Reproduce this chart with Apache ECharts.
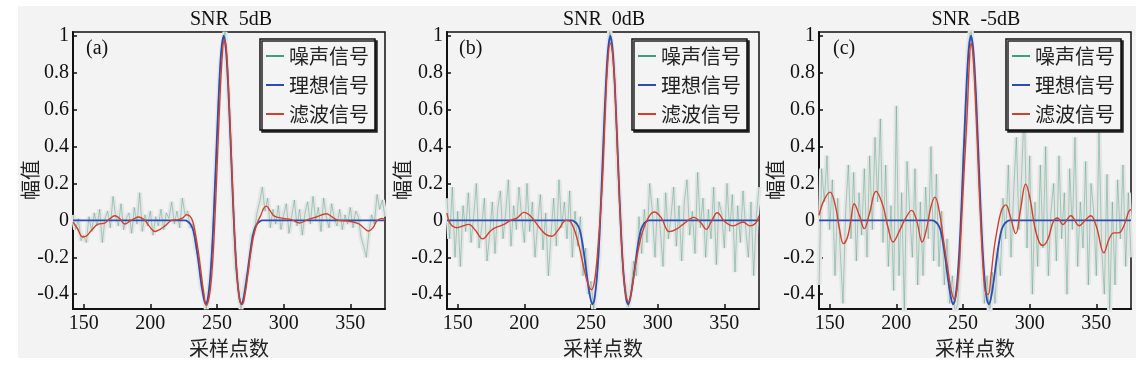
<!DOCTYPE html>
<html>
<head>
<meta charset="utf-8">
<script src="https://cdn.jsdelivr.net/npm/echarts@6/dist/echarts.min.js"></script>
<style>
  html, body { margin: 0; padding: 0; background: #fff; }
  #chart { width: 1142px; height: 368px; }
</style>
</head>
<body>
<div id="chart"></div>
<script>
// ---- data ----

const TITLES = ["SNR  5dB", "SNR  0dB", "SNR  -5dB"];
const TAGS = ["(a)", "(b)", "(c)"];
const SERIES_NAMES = ["噪声信号", "理想信号", "滤波信号"];
const X_TICKS = [150, 200, 250, 300, 350];
const Y_TICKS = [-0.4, -0.2, 0, 0.2, 0.4, 0.6, 0.8, 1];

// sample positions of the noisy traces (every 2nd sample)
const NOISE_X = [
  142, 144, 146, 148, 150, 152, 154, 156, 158, 160,
  162, 164, 166, 168, 170, 172, 174, 176, 178, 180,
  182, 184, 186, 188, 190, 192, 194, 196, 198, 200,
  202, 204, 206, 208, 210, 212, 214, 216, 218, 220,
  222, 224, 226, 228, 230, 232, 234, 236, 238, 240,
  242, 244, 246, 248, 250, 252, 254, 256, 258, 260,
  262, 264, 266, 268, 270, 272, 274, 276, 278, 280,
  282, 284, 286, 288, 290, 292, 294, 296, 298, 300,
  302, 304, 306, 308, 310, 312, 314, 316, 318, 320,
  322, 324, 326, 328, 330, 332, 334, 336, 338, 340,
  342, 344, 346, 348, 350, 352, 354, 356, 358, 360,
  362, 364, 366, 368, 370, 372, 374, 376
];

const NOISY_A = [
  0.03, -0.05, 0.01, -0.11, -0.08, -0.12, 0.02, -0.06, 0.04, -0.03,
  0.06, -0.12, 0.01, 0.05, -0.04, 0.13, 0.02, -0.03, 0.09, -0.05,
  0.01, 0.04, -0.07, 0.07, -0.02, 0.15, -0.06, 0.03, -0.03, 0.05,
  -0.08, 0.02, -0.03, 0.06, -0.05, 0.04, 0.01, 0.10, -0.02, 0.05,
  -0.04, 0.12, 0.03, 0.05, -0.04, -0.02, -0.15, -0.20, -0.36, -0.40,
  -0.48, -0.38, -0.22, 0.14, 0.43, 0.80, 0.95, 1.02, 0.74, 0.48,
  0.06, -0.26, -0.36, -0.48, -0.40, -0.30, -0.26, -0.08, -0.06, 0.04,
  0.10, 0.18, 0.05, 0.12, -0.04, 0.06, -0.02, 0.08, -0.05, 0.03,
  0.09, -0.07, 0.02, 0.11, -0.03, 0.06, -0.08, 0.04, 0.10, -0.02,
  0.13, 0.00, 0.07, -0.06, 0.12, 0.02, -0.04, 0.09, 0.01, -0.03,
  0.06, -0.05, 0.03, -0.02, 0.07, -0.04, 0.05, 0.02, -0.09, -0.14,
  -0.20, -0.06, 0.03, -0.02, 0.14, 0.06, 0.11, 0.02
];

const NOISY_B = [
  0.12, -0.10, 0.18, -0.20, 0.05, -0.25, 0.08, -0.06, 0.15, -0.12,
  0.02, 0.20, -0.15, -0.04, 0.12, -0.22, -0.08, 0.10, -0.18, 0.06,
  0.16, -0.10, 0.04, 0.22, -0.14, 0.08, -0.05, 0.18, 0.02, -0.12,
  0.20, -0.06, 0.10, -0.20, -0.02, 0.14, -0.16, 0.04, -0.30, -0.08,
  0.12, -0.14, 0.22, -0.04, 0.10, -0.10, 0.16, -0.20, 0.05, -0.14,
  0.02, -0.30, -0.15, -0.40, -0.33, -0.48, -0.35, -0.20, 0.18, 0.58,
  0.80, 1.03, 0.92, 0.74, 0.30, 0.05, -0.28, -0.36, -0.47, -0.38,
  -0.22, -0.30, 0.02, -0.18, 0.06, -0.12, 0.20, 0.05, -0.20, 0.12,
  -0.05, -0.25, 0.15, -0.10, 0.02, 0.18, -0.14, 0.08, -0.22, 0.10,
  0.22, -0.08, 0.05, -0.18, 0.26, -0.04, 0.12, -0.20, 0.06, -0.10,
  0.18, -0.24, 0.10, 0.04, -0.15, 0.20, -0.06, 0.14, -0.28, 0.08,
  -0.12, 0.16, -0.04, -0.20, 0.10, -0.30, 0.02, 0.18
];

const NOISY_C = [
  -0.35, 0.28, 0.10, 0.35, -0.05, 0.22, -0.30, 0.12, -0.18, -0.45,
  0.05, 0.30, -0.10, 0.26, -0.22, 0.15, -0.08, 0.28, -0.20, 0.35,
  -0.05, 0.45, 0.10, 0.55, -0.12, 0.30, -0.25, 0.08, -0.38, 0.62,
  -0.30, 0.15, -0.50, 0.32, 0.05, -0.20, 0.28, -0.35, 0.10, -0.30,
  0.18, -0.10, 0.40, -0.22, 0.25, -0.25, 0.05, -0.35, -0.10, -0.45,
  -0.30, -0.50, -0.45, -0.20, 0.35, 0.50, 0.95, 1.05, 0.80, 0.68,
  0.20, -0.05, -0.45, -0.30, -0.52, -0.28, -0.45, -0.15, -0.30, 0.12,
  -0.10, 0.30, -0.20, 0.15, 0.45, -0.05, 0.25, 0.62, -0.15, 0.35,
  -0.40, 0.10, -0.25, 0.30, -0.15, 0.40, -0.30, 0.05, 0.20, -0.22,
  0.35, -0.10, 0.15, -0.40, 0.28, -0.05, 0.45, -0.25, 0.10, -0.15,
  0.32, -0.35, 0.20, 0.05, -0.30, 0.48, -0.15, -0.40, 0.25, -0.50,
  0.10, -0.35, 0.22, -0.10, 0.30, -0.25, 0.15, -0.20
];

// ideal wavelet, [sample, amplitude]
const IDEAL_A = [
  [142, 0], [226, 0], [228, -0.006], [230, -0.02], [232, -0.05], [234, -0.12],
  [236, -0.22], [238, -0.33], [240, -0.42], [241.5, -0.455], [243, -0.43],
  [245, -0.30], [247, -0.06], [249, 0.28], [251, 0.63], [253, 0.90], [255, 1.0],
  [257, 0.90], [259, 0.63], [261, 0.28], [263, -0.06], [265, -0.30], [267, -0.43],
  [268.5, -0.455], [270, -0.42], [272, -0.33], [274, -0.22], [276, -0.12],
  [278, -0.05], [280, -0.02], [282, -0.006], [284, 0], [376, 0]
];
const IDEAL_B = [
  [142, 0], [235.5, 0], [237.5, -0.006], [239.5, -0.02], [241.5, -0.05], [243.5, -0.12],
  [245.5, -0.22], [247.5, -0.33], [249.5, -0.42], [251, -0.455], [252.5, -0.43],
  [254.5, -0.30], [256.5, -0.06], [258.5, 0.28], [260.5, 0.63], [262.5, 0.90], [264.5, 1.0],
  [266.5, 0.90], [268.5, 0.63], [270.5, 0.28], [272.5, -0.06], [274.5, -0.30], [276.5, -0.43],
  [278, -0.455], [279.5, -0.42], [281.5, -0.33], [283.5, -0.22], [285.5, -0.12],
  [287.5, -0.05], [289.5, -0.02], [291.5, -0.006], [293.5, 0], [376, 0]
];
const IDEAL_C = [
  [142, 0], [227, 0], [229, -0.006], [231, -0.02], [233, -0.05], [235, -0.12],
  [237, -0.22], [239, -0.33], [241, -0.42], [242.5, -0.455], [244, -0.43],
  [246, -0.30], [248, -0.06], [250, 0.28], [252, 0.63], [254, 0.90], [256, 1.0],
  [258, 0.90], [260, 0.63], [262, 0.28], [264, -0.06], [266, -0.30], [268, -0.43],
  [269.5, -0.455], [271, -0.42], [273, -0.33], [275, -0.22], [277, -0.12],
  [279, -0.05], [281, -0.02], [283, -0.006], [285, 0], [376, 0]
];

// filtered output, [sample, amplitude]
const FILT_A = [
  [142, -0.01], [145, -0.04], [149.5, -0.09], [152, -0.085], [155.8, -0.055], [160.8, -0.02],
  [165.8, -0.015], [169, 0.005], [173.4, 0.025], [177, 0.01], [180.9, -0.02], [184.7, -0.004],
  [188, 0.01], [191, 0.018], [196, 0], [199, -0.03], [203.5, -0.06], [207, -0.05], [211, -0.03],
  [216, 0], [221, 0.004], [224, 0.012], [227.4, 0.03], [230, 0.02], [232, -0.01], [234, -0.08],
  [236, -0.17], [238, -0.28], [240, -0.39], [242, -0.46], [244, -0.42], [246, -0.30],
  [248, -0.06], [250, 0.28], [252, 0.63], [254, 0.90], [255.5, 0.98], [257, 0.93], [259, 0.66],
  [261, 0.30], [263, -0.05], [265, -0.30], [267, -0.43], [269, -0.455], [271, -0.40],
  [273, -0.30], [275, -0.19], [277, -0.10], [279, -0.04], [281, 0.0], [283, 0.03], [285, 0.065],
  [287, 0.077], [290, 0.05], [293, 0.023], [299.5, 0.011], [305.8, 0.004], [312, -0.014],
  [318, 0.004], [324.6, 0.018], [332, 0.036], [336, 0.02], [341, 0], [348.5, -0.004],
  [356, -0.018], [360, -0.04], [363.6, -0.058], [367, -0.04], [369.8, -0.004], [373.6, 0.011],
  [376, 0.006]
];
const FILT_B = [
  [142, 0.04], [144.5, -0.018], [149.5, -0.04], [153.3, -0.032], [158.3, -0.022], [163.3, -0.054],
  [168.8, -0.10], [174.6, -0.058], [178.4, -0.04], [184.7, -0.022], [189.7, 0], [194.7, 0.014],
  [199.7, 0.043], [204.8, 0.022], [211, -0.036], [216.1, -0.076], [220.6, -0.086], [226.1, -0.045],
  [231.2, 0], [234.9, -0.01], [240, -0.11], [245, -0.27], [248, -0.35], [250.5, -0.375],
  [253, -0.31], [255.5, -0.12], [258.5, 0.2], [260.5, 0.55], [262.5, 0.85], [264.5, 0.96],
  [266.5, 0.88], [268.5, 0.62], [270.5, 0.26], [272.5, -0.07], [274.5, -0.30], [276.5, -0.42],
  [278.3, -0.44], [280, -0.40], [282.5, -0.28], [284.9, -0.18], [287.5, -0.09], [290, -0.034],
  [293.7, 0.023], [297.5, 0.045], [302.5, 0.016], [308.8, -0.061], [313.8, -0.049], [320, -0.016],
  [327.1, 0.016], [332.7, -0.016], [336.4, -0.049], [340.2, -0.007], [344.7, 0.041],
  [350.3, -0.007], [356.5, -0.03], [364.1, -0.009], [369.1, -0.03], [373.4, -0.016], [376, 0.025]
];
const FILT_C = [
  [142, 0.027], [145.7, 0.108], [150.3, 0.153], [154.5, 0.072], [157.1, -0.036], [160.4, -0.126],
  [163.4, -0.09], [165.9, 0], [168.4, 0.09], [172.2, 0.027], [176, -0.045], [179.8, 0.036],
  [184.8, 0.158], [189.9, 0.081], [193.7, -0.036], [197.5, -0.117], [202.5, -0.054], [206.8, 0.009],
  [211.4, 0.054], [215.2, 0], [219.4, -0.117], [222.7, -0.045], [226, 0.075], [229, 0.126],
  [232.1, 0.054], [235.4, -0.108], [239.1, -0.287], [241.5, -0.39], [243.7, -0.43], [246.5, -0.30],
  [248.5, -0.06], [250.5, 0.22], [253, 0.56], [254.8, 0.86], [256, 0.96], [257.5, 0.9],
  [259.5, 0.62], [261.5, 0.28], [263.5, -0.05], [265.5, -0.30], [267.5, -0.40], [269, -0.40],
  [271, -0.30], [273, -0.17], [275.2, -0.068], [279, 0.057], [282.2, 0.084], [285.1, 0.03],
  [289.6, -0.072], [293.1, 0.057], [297, 0.197], [300.5, 0.11], [303.7, -0.032], [307.4, -0.122],
  [309.9, -0.136], [313.6, -0.104], [317.8, -0.005], [321, 0.013], [324.8, -0.023], [330.9, 0.025],
  [337.1, -0.029], [342.1, 0.004], [345.8, 0.025], [350, -0.032], [355.7, -0.176], [359.4, -0.104],
  [363.1, -0.068], [366.8, -0.068], [370.5, -0.032], [374.3, 0.048], [376, 0.06]
];

// ---- chart ----

const chart = echarts.init(document.getElementById("chart"));
const SERIF = "'Liberation Serif', 'DejaVu Serif', serif";
const CJK = "'Noto Sans CJK SC', sans-serif";
const INK = "#111";
const C_NOISE = "#3f9f7a";
const C_IDEAL = "#2c4db3";
const C_FILT = "#d3402c";

const NOISY = [NOISY_A, NOISY_B, NOISY_C];
const IDEAL = [IDEAL_A, IDEAL_B, IDEAL_C];
const FILT = [FILT_A, FILT_B, FILT_C];

// panel geometry (px)
const PANEL_LEFT = [73, 447, 819];
const PANEL_W = 312;
const PANEL_TOP = 32;
const PANEL_H = 277;
const TITLE_X = [226, 599, 971];
const LEGEND_X = [260, 632, 1006];
const TAG_X = [86, 459, 833];
const YNAME_X = [30, 402, 775];

const grids = [], xAxes = [], yAxes = [], series = [], titles = [], legends = [], graphics = [];

graphics.push({
  type: "rect", z: -10, silent: true,
  shape: { x: 18, y: 6, width: 1118, height: 352 },
  style: { fill: "#f3f3f3" }
});

for (let i = 0; i < 3; i++) {
  grids.push({
    left: PANEL_LEFT[i], top: PANEL_TOP, width: PANEL_W, height: PANEL_H,
    show: true, borderColor: INK, borderWidth: 1.5, backgroundColor: "transparent"
  });

  xAxes.push({
    type: "value", gridIndex: i, min: 142, max: 376,
    name: "采样点数", nameLocation: "middle", nameGap: 27,
    nameTextStyle: { fontFamily: CJK, fontSize: 20, color: "#222" },
    axisLine: { onZero: false, lineStyle: { color: INK, width: 2 } },
    axisTick: { inside: true, length: 5, customValues: X_TICKS, lineStyle: { color: INK, width: 1.5 } },
    axisLabel: { customValues: X_TICKS, fontFamily: SERIF, fontSize: 20, color: INK, margin: 5 },
    splitLine: { show: false }
  });

  yAxes.push({
    type: "value", gridIndex: i, min: -0.48, max: 1.02,
    axisLine: { onZero: false, lineStyle: { color: INK, width: 2 } },
    axisTick: { inside: true, length: 4, customValues: Y_TICKS, lineStyle: { color: INK, width: 1.5 } },
    axisLabel: {
      customValues: Y_TICKS, fontFamily: SERIF, fontSize: 20, color: INK, margin: 4,
      formatter: (v) => String(+(+v).toFixed(1))
    },
    splitLine: { show: false }
  });

  // y axis title, rotated, sits a little below the panel middle as in the source
  graphics.push({
    type: "text", x: YNAME_X[i], y: 180, rotation: Math.PI / 2, z: 10,
    style: { text: "幅值", font: "20px " + CJK, fill: "#222", align: "center", verticalAlign: "middle" }
  });

  titles.push({
    text: TITLES[i], left: TITLE_X[i], top: 5, textAlign: "center",
    textStyle: { fontFamily: SERIF, fontSize: 20, fontWeight: "normal", color: INK }
  });

  graphics.push({
    type: "text", left: TAG_X[i], top: 39, z: 10,
    style: { text: TAGS[i], font: "20px " + SERIF, fill: INK }
  });

  legends.push({
    left: LEGEND_X[i], top: 39, orient: "vertical",
    data: SERIES_NAMES,
    icon: "rect",
    itemWidth: 18, itemHeight: 2, itemGap: 9,
    padding: [7, 6, 6, 6],
    backgroundColor: "#f4f4f4",
    borderColor: INK, borderWidth: 1.5,
    shadowColor: "#222", shadowBlur: 0, shadowOffsetX: 2, shadowOffsetY: 2,
    textStyle: { fontFamily: CJK, fontSize: 20, color: "#222", lineHeight: 18 }
  });

  const noisy = NOISE_X.map((x, k) => [x, NOISY[i][k]]);

  series.push({
    type: "line", name: "_halo" + i, xAxisIndex: i, yAxisIndex: i, data: noisy,
    symbol: "none", silent: true, z: 1,
    itemStyle: { color: "#e5e5e5" },
    lineStyle: { color: "#e5e5e5", width: 5 }
  });
  series.push({
    type: "line", name: SERIES_NAMES[0], xAxisIndex: i, yAxisIndex: i, data: noisy,
    symbol: "none", z: 2,
    itemStyle: { color: C_NOISE },
    lineStyle: { color: C_NOISE, width: 1, opacity: 0.42 }
  });
  series.push({
    type: "line", name: SERIES_NAMES[1], xAxisIndex: i, yAxisIndex: i, data: IDEAL[i],
    symbol: "none", smooth: 0.3, z: 3,
    itemStyle: { color: C_IDEAL },
    lineStyle: { color: C_IDEAL, width: 1.8 }
  });
  series.push({
    type: "line", name: SERIES_NAMES[2], xAxisIndex: i, yAxisIndex: i, data: FILT[i],
    symbol: "none", smooth: 0.4, z: 4,
    itemStyle: { color: C_FILT },
    lineStyle: { color: C_FILT, width: 1.4 }
  });
}

chart.setOption({
  animation: false,
  backgroundColor: "#ffffff",
  title: titles,
  legend: legends,
  grid: grids,
  xAxis: xAxes,
  yAxis: yAxes,
  series: series,
  graphic: graphics
});
</script>
</body>
</html>
